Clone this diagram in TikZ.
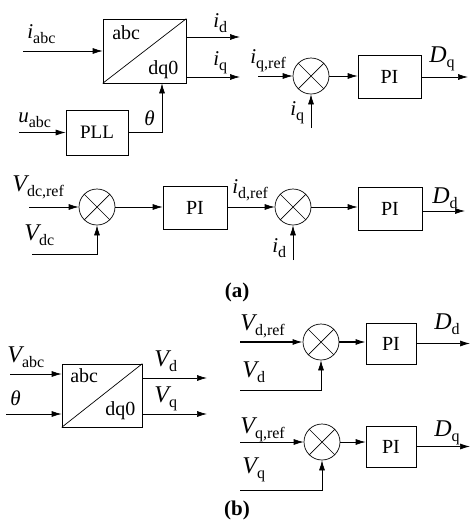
\documentclass[tikz,border=0pt]{standalone}
\usepackage{fontspec}
\setmainfont{Liberation Serif}
\usetikzlibrary{arrows.meta,positioning}
\newcommand{\sv}[2]{{\itshape #1}\raisebox{-5pt}{\fontsize{16}{16}\selectfont #2}}
\tikzset{
	blk/.style={draw, inner sep=0pt, minimum width=63pt, minimum height=43pt, font=\fontsize{20}{20}\selectfont},
	sumj/.style={draw, circle, inner sep=0pt, minimum size=36pt,
		path picture={\draw (path picture bounding box.north west) -- (path picture bounding box.south east)
			(path picture bounding box.north east) -- (path picture bounding box.south west);}},
	sig/.style={-{Latex[length=10pt,width=6pt]}},
	big/.style={inner sep=0pt, anchor=base west, font=\fontsize{24}{24}\selectfont},
	sml/.style={inner sep=0pt, anchor=base west, font=\fontsize{21}{21}\selectfont},
	txt/.style={inner sep=0pt, anchor=base west, font=\fontsize{20}{20}\selectfont}
}
\begin{document}
\begin{tikzpicture}[x=1pt,y=-1pt,line width=0.7pt]
		\useasboundingbox (0,0) rectangle (474,520);
		%Part (a): transform and PLL
		\node[draw, inner sep=0pt, minimum width=83pt, minimum height=64pt] (tfa) at (144.5,51) {};
		\draw (tfa.south west) -- (tfa.north east);
		\node[txt] (tfaabc) at (112,39) {abc};
		\node[txt] (tfadq) at (148,74) {dq0};
		\node[blk, minimum width=62pt, minimum height=45pt, font=\fontsize{19}{19}\selectfont] (pll) at (97,132.5) {PLL};
		\coordinate (iabc) at (23,51);
		\coordinate (uabc) at (19,132.5);
		\coordinate (ida) at (240,37);
		\coordinate (iqa) at (240,77);
		\draw[sig] (iabc) -- (tfa.west);
		\draw[sig] (uabc) -- (pll.west);
		\draw[sig] (ida -| tfa.east) -- (ida);
		\draw[sig] (iqa -| tfa.east) -- (iqa);
		\draw[sig] (pll.east) -| ([xshift=17.5pt]tfa.south);
		\node[sml] (liabc) at (27,38) {\sv{i}{abc}};
		\node[sml] (luabc) at (18,122) {\sv{u}{abc}};
		\node[sml] (lida) at (213,27) {\sv{i}{d}};
		\node[sml] (liqa) at (213,65) {\sv{i}{q}};
		\node[sml] (ltha) at (144,125) {\textit{θ}};
		%Part (a): q current loop
		\node[sumj] (sq) at (311,76) {};
		\node[blk] (piq) at (389.5,77) {PI};
		\coordinate (iqref) at (258,76);
		\coordinate (iqfb) at (311,128);
		\coordinate (dq) at (468,77);
		\draw[sig] (iqref) -- (sq.west);
		\draw[sig] (iqfb) -- (sq.south);
		\draw[sig] (sq.east) -- (sq.east -| piq.west);
		\draw[sig] (piq.east) -- (dq);
		\node[sml] (liqref) at (250,63) {\sv{i}{q,ref}};
		\node[sml] (liq) at (290,115) {\sv{i}{q}};
		\node[big] (ldq) at (429,62) {\sv{D}{q}};
		%Part (a): dc voltage and d current loop
		\node[sumj] (s1) at (97,207) {};
		\node[blk, minimum width=64pt] (pi1) at (195,208) {PI};
		\node[sumj] (s2) at (293,207) {};
		\node[blk, minimum width=64pt] (pi2) at (390,209) {PI};
		\coordinate (vdcref) at (29,207);
		\coordinate (vdc) at (32,254);
		\coordinate (idfb) at (293,260);
		\coordinate (dd) at (465,211);
		\draw[sig] (vdcref) -- (s1.west);
		\draw[sig] (vdc) -| (s1.south);
		\draw[sig] (s1.east) -- (s1.east -| pi1.west);
		\draw[sig] (pi1.east |- s2.west) -- (s2.west);
		\draw[sig] (idfb) -- (s2.south);
		\draw[sig] (s2.east) -- (s2.east -| pi2.west);
		\draw[sig] (dd -| pi2.east) -- (dd);
		\node[big] (lvdcref) at (12,191) {\sv{V}{dc,ref}};
		\node[big] (lvdc) at (24,240) {\sv{V}{dc}};
		\node[sml] (lidref) at (232,193) {\sv{i}{d,ref}};
		\node[sml] (lid) at (272,252) {\sv{i}{d}};
		\node[big] (ldd) at (432,203) {\sv{D}{d}};
		\node[font=\fontsize{21}{21}\selectfont\bfseries] (capa) at (237,292) {(a)};
		%Part (b): transform
		\node[draw, inner sep=0pt, minimum width=80pt, minimum height=63pt] (tfb) at (102,395.5) {};
		\draw (tfb.south west) -- (tfb.north east);
		\node[txt] (tfbabc) at (70,382) {abc};
		\node[txt] (tfbdq) at (105,415) {dq0};
		\coordinate (vabc) at (10,374);
		\coordinate (thb) at (6,414);
		\coordinate (vdb) at (207,378);
		\coordinate (vqb) at (207,414);
		\draw[sig] (vabc) -- (vabc -| tfb.west);
		\draw[sig] (thb) -- (thb -| tfb.west);
		\draw[sig] (vdb -| tfb.east) -- (vdb);
		\draw[sig] (vqb -| tfb.east) -- (vqb);
		\node[big] (lvabc) at (7,362) {\sv{V}{abc}};
		\node[sml] (lthb) at (10,405) {\textit{θ}};
		\node[big] (lvdb) at (154,366) {\sv{V}{d}};
		\node[big] (lvqb) at (154,402) {\sv{V}{q}};
		%Part (b): d and q voltage loops
		\node[sumj] (s3) at (321,342) {};
		\node[blk, minimum width=50pt, minimum height=41pt] (pi3) at (391,343.5) {PI};
		\node[sumj] (s4) at (322,442) {};
		\node[blk, minimum width=50pt, minimum height=41pt] (pi4) at (391,446.5) {PI};
		\coordinate (vdref) at (240,342);
		\coordinate (vdfb) at (240,390);
		\coordinate (ddb) at (470,343.5);
		\coordinate (vqref) at (240,442);
		\coordinate (vqfb) at (240,490);
		\coordinate (dqb) at (470,446.5);
		\draw[sig, line width=1.2pt] (vdref) -- (s3.west);
		\draw[sig] (vdfb) -| (s3.south);
		\draw[sig, line width=1.2pt] (s3.east) -- (s3.east -| pi3.west);
		\draw[sig] (pi3.east) -- (ddb);
		\draw[sig] (vqref) -- (s4.west);
		\draw[sig] (vqfb) -| (s4.south);
		\draw[sig] (s4.east) -- (s4.east -| pi4.west);
		\draw[sig] (pi4.east) -- (dqb);
		\node[big] (lvdref) at (240,330) {\sv{V}{d,ref}};
		\node[big] (lvd) at (242,377) {\sv{V}{d}};
		\node[big] (lddb) at (434,329) {\sv{D}{d}};
		\node[big] (lvqref) at (240,433) {\sv{V}{q,ref}};
		\node[big] (lvq) at (242,473) {\sv{V}{q}};
		\node[big] (ldqb) at (434,436) {\sv{D}{q}};
		\node[font=\fontsize{21}{21}\selectfont\bfseries] (capb) at (237,510) {(b)};
\end{tikzpicture}
\end{document}
